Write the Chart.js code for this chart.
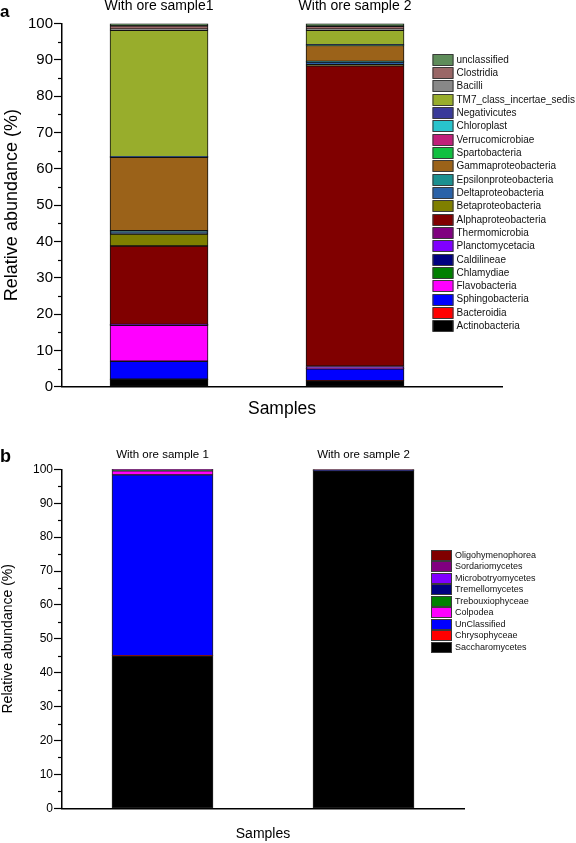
<!DOCTYPE html>
<html>
<head>
<meta charset="utf-8">
<script src="https://cdn.jsdelivr.net/npm/chart.js@4/dist/chart.umd.min.js"></script>
<style>
  html, body { margin: 0; padding: 0; background: #fff; }
  .panel { position: absolute; left: 0; width: 576px; }
  #panelA { top: 0; height: 420px; }
  #panelB { top: 420px; height: 423px; }
</style>
</head>
<body>
<div class="panel" id="panelA"><canvas id="chartA"></canvas></div>
<div class="panel" id="panelB"><canvas id="chartB"></canvas></div>
<script>
// panel a - bacterial classes, bottom of the stack first
const samplesA = ['With ore sample1', 'With ore sample 2'];
const classesA = [
  'Actinobacteria', 'Bacteroidia', 'Sphingobacteria', 'Flavobacteria', 'Chlamydiae',
  'Caldilineae', 'Planctomycetacia', 'Thermomicrobia', 'Alphaproteobacteria',
  'Betaproteobacteria', 'Deltaproteobacteria', 'Epsilonproteobacteria',
  'Gammaproteobacteria', 'Spartobacteria', 'Verrucomicrobiae', 'Chloroplast',
  'Negativicutes', 'TM7_class_incertae_sedis', 'Bacilli', 'Clostridia', 'unclassified'
];
const sample1A = [2.0, 0.1, 4.9, 9.9, 0.05, 0.05, 0.1, 0.05, 21.6, 3.3, 0.6, 0.3,
  20.2, 0.05, 0.05, 0.05, 0.05, 34.8, 0.3, 0.9, 0.65];
const sample2A = [1.6, 0.05, 3.3, 0.1, 0.05, 0.05, 0.4, 0.1, 82.7, 0.3, 0.7, 0.2,
  4.4, 0.05, 0.05, 0.05, 0.05, 4.0, 0.3, 0.8, 0.75];
const coloursA = [
  '#000000', '#ff0000', '#0000ff', '#ff00ff', '#008000',
  '#000080', '#8000ff', '#800080', '#800000',
  '#7f7f00', '#2a62a8', '#1c9090',
  '#9b6219', '#10c040', '#c0207a', '#28c4cc',
  '#3a3a9a', '#98ad2c', '#888888', '#9a6767', '#5e8c5a'
];

// panel b - eukaryotic classes, bottom of the stack first
const samplesB = ['With ore sample 1', 'With ore sample 2'];
const classesB = [
  'Saccharomycetes', 'Chrysophyceae', 'UnClassified', 'Colpodea', 'Trebouxiophyceae',
  'Tremellomycetes', 'Microbotryomycetes', 'Sordariomycetes', 'Oligohymenophorea'
];
const sample1B = [45.0, 0.05, 53.3, 1.2, 0.1, 0.15, 0.05, 0.05, 0.1];
const sample2B = [99.6, 0, 0.05, 0, 0, 0.3, 0, 0, 0.05];
const coloursB = [
  '#000000', '#ff0000', '#0000ff', '#ff00ff', '#008000',
  '#000080', '#8000ff', '#800080', '#800000'
];

const FONT = '"Liberation Sans", Arial, Helvetica, sans-serif';

// minor ticks, panel letter and the boxed legend
const extras = {
  id: 'extras',
  afterDraw(chart, args, o) {
    const ctx = chart.ctx;
    const y = chart.scales.y;
    const axisX = chart.chartArea.left;
    ctx.save();
    ctx.strokeStyle = '#000';
    ctx.lineWidth = 1.2;
    for (let v = 5; v < 100; v += 10) {
      const py = Math.round(y.getPixelForValue(v)) + 0.5;
      ctx.beginPath();
      ctx.moveTo(axisX - o.minorLength, py);
      ctx.lineTo(axisX, py);
      ctx.stroke();
    }

    ctx.fillStyle = '#000';
    ctx.textBaseline = 'middle';
    ctx.font = 'bold ' + o.letterSize + 'px ' + FONT;
    ctx.fillText(o.letter, 0, o.letterY);

    const ds = chart.data.datasets;
    ctx.font = o.legendSize + 'px ' + FONT;
    for (let i = ds.length - 1, row = 0; i >= 0; i--, row++) {
      const cy = o.legendTop + row * o.legendStep;
      const top = Math.round(cy - o.swatchH / 2) + 0.5;
      ctx.fillStyle = ds[i].backgroundColor;
      ctx.fillRect(o.legendX, top, o.swatchW, o.swatchH);
      ctx.strokeStyle = '#3a3a3a';
      ctx.lineWidth = 1;
      ctx.strokeRect(o.legendX + 0.5, top, o.swatchW - 1, o.swatchH);
      ctx.fillStyle = '#111';
      ctx.fillText(ds[i].label, o.legendX + o.swatchW + 3, cy + 0.5);
    }
    ctx.restore();
  }
};

function makeChart(id, samples, classes, s1, s2, colours, look) {
  const datasets = classes.map((name, i) => ({
    label: name,
    data: [{ x: 1, y: s1[i] }, { x: 2, y: s2[i] }],
    backgroundColor: colours[i],
    borderColor: look.edge,
    borderWidth: look.edgeWidth,
    borderSkipped: false,
    barThickness: look.barWidth
  }));

  return new Chart(document.getElementById(id), {
    type: 'bar',
    data: { datasets },
    plugins: [extras],
    options: {
      responsive: true,
      maintainAspectRatio: false,
      animation: false,
      layout: { padding: { left: 0, top: 0, bottom: 0, right: look.padRight } },
      plugins: {
        legend: { display: false },
        tooltip: { enabled: false },
        extras: look.extras
      },
      scales: {
        x: {
          type: 'linear',
          stacked: true,
          offset: false,
          position: 'bottom',
          min: look.xMin,
          max: look.xMax,
          grid: { display: false, drawTicks: false, tickLength: 0 },
          border: { color: '#000', width: 1.5 },
          ticks: { display: false },
          title: {
            display: true,
            text: 'Samples',
            color: '#000',
            font: { family: FONT, size: look.xTitleSize },
            padding: { top: 0, bottom: look.xTitlePad }
          },
          afterFit: s => { s.height = look.bottomH; }
        },
        top: {
          type: 'linear',
          offset: false,
          position: 'top',
          min: look.xMin,
          max: look.xMax,
          grid: { display: false, drawTicks: false, tickLength: 0 },
          border: { display: false },
          afterBuildTicks: s => { s.ticks = samples.map((_, i) => ({ value: i + 1 })); },
          ticks: {
            autoSkip: false,
            maxRotation: 0,
            color: '#000',
            padding: look.topPad,
            font: { family: FONT, size: look.topSize },
            callback: (v, i) => samples[i]
          },
          afterFit: s => { s.height = look.topH; }
        },
        y: {
          stacked: true,
          position: 'left',
          min: 0,
          max: 100,
          ticks: {
            stepSize: 10,
            color: '#000',
            padding: 1,
            font: { family: FONT, size: look.tickSize }
          },
          grid: {
            drawOnChartArea: false,
            tickLength: 8,
            tickColor: '#000',
            tickWidth: 1.2
          },
          border: { color: '#000', width: 1.5 },
          title: {
            display: true,
            text: 'Relative abundance (%)',
            color: '#000',
            font: { family: FONT, size: look.yTitleSize },
            padding: { top: look.yTitlePad, bottom: 0 }
          },
          afterFit: s => { s.width = 62; }
        }
      }
    }
  });
}

makeChart('chartA', samplesA, classesA, sample1A, sample2A, coloursA, {
  edge: '#111', edgeWidth: 1, barWidth: 98,
  xMin: 0.505, xMax: 2.75, padRight: 74,
  topH: 23.5, topPad: 9, topSize: 14,
  bottomH: 33.3, xTitleSize: 17.5, xTitlePad: 0.5,
  tickSize: 15, yTitleSize: 18, yTitlePad: 1.2,
  extras: {
    minorLength: 4, letter: 'a', letterSize: 17, letterY: 12.5,
    legendX: 432.5, legendTop: 59.3, legendStep: 13.33,
    swatchW: 21, swatchH: 11, legendSize: 10
  }
});

makeChart('chartB', samplesB, classesB, sample1B, sample2B, coloursB, {
  edge: '#222', edgeWidth: 1, barWidth: 101,
  xMin: 0.5, xMax: 2.5, padRight: 112,
  topH: 49.3, topPad: 7.4, topSize: 11.5,
  bottomH: 34.7, xTitleSize: 14, xTitlePad: 0,
  tickSize: 12, yTitleSize: 14, yTitlePad: 0,
  extras: {
    minorLength: 4, letter: 'b', letterSize: 18, letterY: 37,
    legendX: 431, legendTop: 135, legendStep: 11.46,
    swatchW: 21, swatchH: 10, legendSize: 9
  }
});
</script>
</body>
</html>
